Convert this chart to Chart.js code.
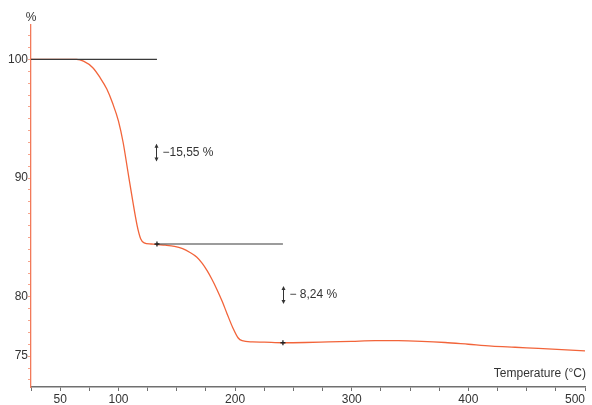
<!DOCTYPE html>
<html>
<head>
<meta charset="utf-8">
<style>
    html, body { margin: 0; padding: 0; background: #fff; }
    .chart { width: 592px; height: 405px; }
</style>
</head>
<body>
<div class="chart">
    <canvas id="tgaChart"></canvas>
</div>
<script src="https://cdn.jsdelivr.net/npm/chart.js"></script>
<script>
// TGA curve
const temps = [25, 40, 55, 64, 70, 78, 84, 90, 95, 100, 104, 108, 112, 116, 119, 122, 128, 133,
    140, 148, 155, 161, 167, 172, 176, 180, 184.5, 189, 193, 198, 202.5, 206, 215, 225, 241,
    260, 280, 300, 320, 340, 360, 380, 400, 420, 440, 460, 480, 500];
const mass = [100.0, 100.0, 100.0, 100.0, 99.85, 99.3, 98.5, 97.5, 96.3, 94.8, 93.0, 90.6, 88.2, 86.0, 84.9, 84.55, 84.45, 84.4,
    84.35, 84.25, 84.05, 83.75, 83.35, 82.8, 82.2, 81.5, 80.6, 79.6, 78.6, 77.4, 76.55, 76.3, 76.2, 76.18, 76.13,
    76.15, 76.2, 76.25, 76.3, 76.3, 76.25, 76.15, 76.0, 75.85, 75.75, 75.65, 75.55, 75.45];

// step baselines and markers
const step1 = [{x: 25, y: 100}, {x: 133, y: 100}];
const step2 = [{x: 133, y: 84.45}, {x: 241, y: 84.45}];
const stepMarks = [{x: 133, y: 84.45}, {x: 241, y: 76.13}];

// mass-loss labels: arrow x, arrow top/bottom, text
const lossLabels = ['\u221215,55 %', '\u2212 8,24 %'];
const lossArrowX = [132.3, 241];
const lossArrowTop = [92.9, 80.9];
const lossArrowBottom = [91.4, 79.4];

const xTickLabels = [50, 100, 200, 300, 400, 500];
const yTickLabels = [100, 90, 80, 75];

const FONT = 'Liberation Sans, Arial, sans-serif';

const textPlugin = {
    id: 'textPlugin',
    afterDatasetsDraw(chart) {
        const ctx = chart.ctx;
        const xs = chart.scales.x, ys = chart.scales.y;
        ctx.save();
        ctx.fillStyle = '#333';
        ctx.strokeStyle = '#333';
        ctx.lineWidth = 1;
        ctx.font = '12px ' + FONT;
        // arrows + labels
        for (let i = 0; i < lossLabels.length; i++) {
            const px = Math.round(xs.getPixelForValue(lossArrowX[i])) + 0.5;
            const top = ys.getPixelForValue(lossArrowTop[i]);
            const bot = ys.getPixelForValue(lossArrowBottom[i]);
            ctx.beginPath();
            ctx.moveTo(px, top + 1);
            ctx.lineTo(px, bot - 1);
            ctx.stroke();
            ctx.beginPath();
            ctx.moveTo(px, top); ctx.lineTo(px - 2, top + 4); ctx.lineTo(px + 2, top + 4); ctx.closePath();
            ctx.moveTo(px, bot); ctx.lineTo(px - 2, bot - 4); ctx.lineTo(px + 2, bot - 4); ctx.closePath();
            ctx.fill();
            ctx.textAlign = 'left';
            ctx.textBaseline = 'middle';
            ctx.fillText(lossLabels[i], px + 6, (top + bot) / 2);
        }
        // axis captions
        ctx.textAlign = 'right';
        ctx.textBaseline = 'middle';
        ctx.fillText('Temperature (\u00b0C)', chart.chartArea.right + 1, chart.chartArea.bottom - 13);
        ctx.textAlign = 'center';
        ctx.fillText('%', chart.chartArea.left, 18);
        ctx.restore();
    }
};

const ctx = document.getElementById('tgaChart').getContext('2d');
new Chart(ctx, {
    type: 'line',
    data: {
        datasets: [
            {
                data: temps.map((t, i) => ({x: t, y: mass[i]})),
                borderColor: '#f2643a',
                borderWidth: 1.3,
                pointRadius: 0,
                cubicInterpolationMode: 'monotone',
                order: 2
            },
            {
                data: step1,
                borderColor: '#3a3a3a',
                borderWidth: 1.2,
                pointRadius: 0,
                order: 1
            },
            {
                data: step2,
                borderColor: '#3a3a3a',
                borderWidth: 1.2,
                pointRadius: 0,
                order: 1
            },
            {
                data: stepMarks,
                showLine: false,
                pointStyle: 'cross',
                pointRadius: 2.5,
                borderColor: '#222',
                borderWidth: 1.3,
                order: 0
            }
        ]
    },
    options: {
        responsive: true,
        maintainAspectRatio: false,
        animation: false,
        layout: { padding: { top: 25, right: 7, left: 0, bottom: 0 } },
        plugins: {
            legend: { display: false },
            tooltip: { enabled: false }
        },
        scales: {
            x: {
                type: 'linear',
                min: 25,
                max: 500,
                border: { color: '#707070', width: 1.5 },
                grid: { drawOnChartArea: false, tickLength: 4, color: '#707070' },
                ticks: {
                    stepSize: 25,
                    autoSkip: false,
                    maxRotation: 0,
                    align: 'inner',
                    padding: 1,
                    color: '#333',
                    font: { family: FONT, size: 12 },
                    callback: v => xTickLabels.includes(v) ? v : ''
                },
                afterFit(scale) {
                    scale.height = 18;
                    scale.paddingLeft = 0;
                    scale.paddingRight = 0;
                }
            },
            y: {
                min: 72.4,
                max: 102.9,
                border: { color: '#f27a5a', width: 1.3 },
                grid: { drawOnChartArea: false, tickLength: 3, color: '#f6a48c' },
                ticks: {
                    stepSize: 1,
                    autoSkip: false,
                    includeBounds: false,
                    padding: 0,
                    color: '#333',
                    font: { family: FONT, size: 12 },
                    callback: v => yTickLabels.includes(v) ? v : ''
                },
                afterFit(scale) {
                    scale.width = 31;
                    scale.paddingTop = 0;
                    scale.paddingBottom = 0;
                }
            }
        }
    },
    plugins: [textPlugin]
});
</script>
</body>
</html>
